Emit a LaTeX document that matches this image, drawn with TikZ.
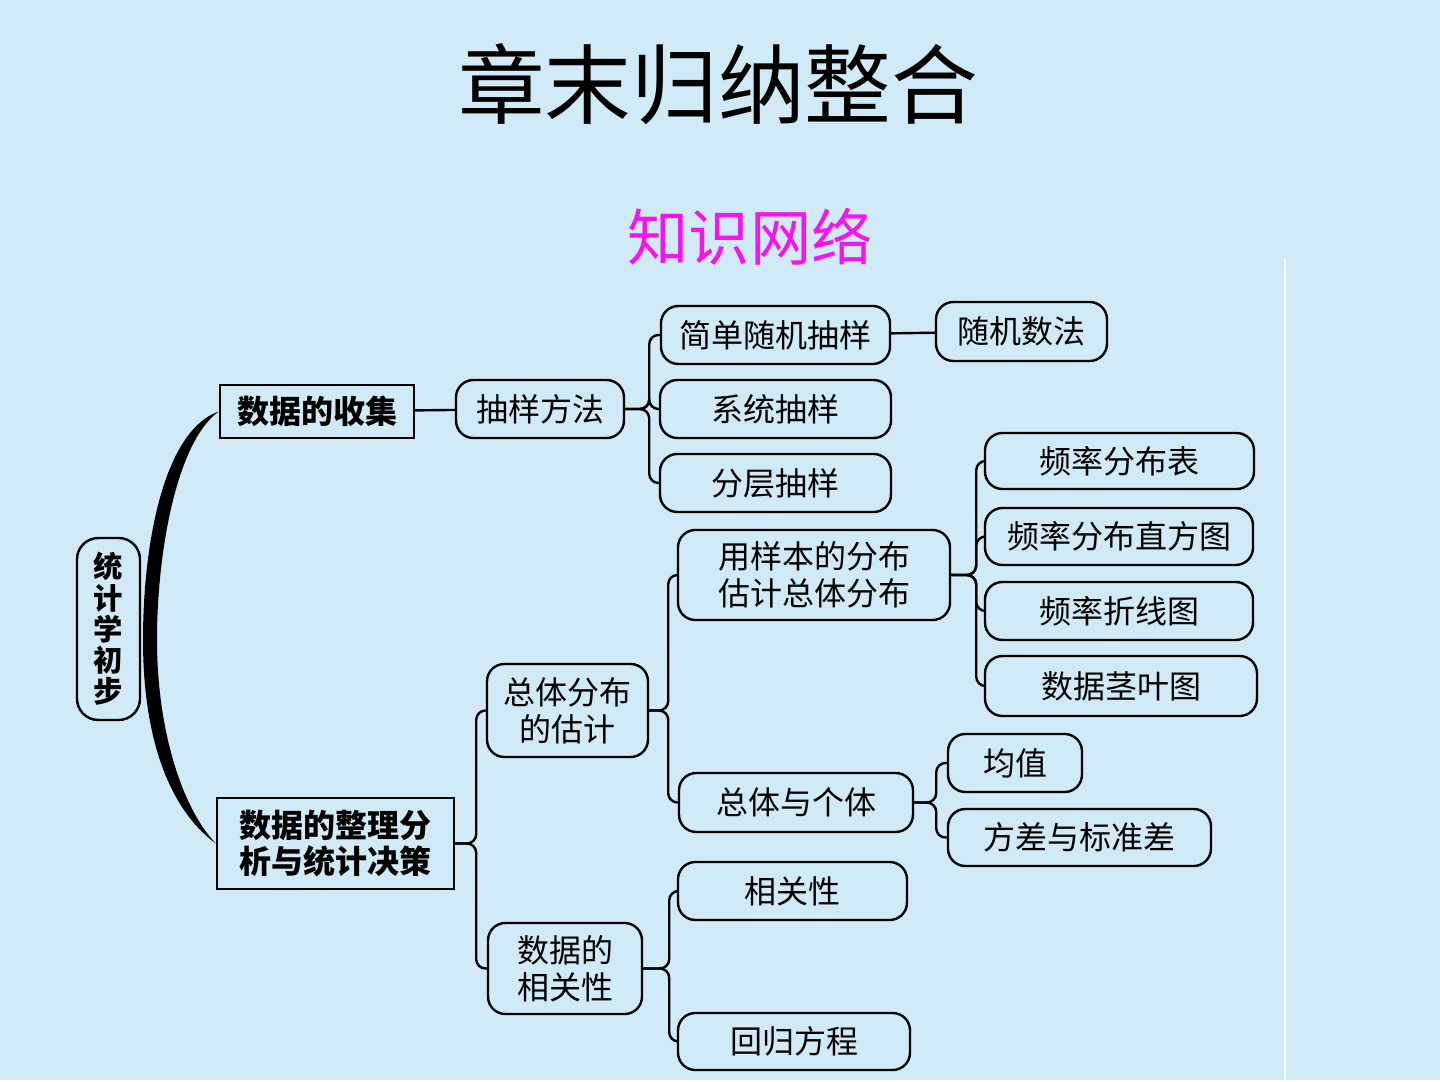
\documentclass[tikz,border=0pt]{standalone}
\usepackage{fontspec}
\setmainfont{Noto Sans CJK SC}
\definecolor{paper}{RGB}{208,234,247}
\definecolor{pinktitle}{RGB}{245,20,240}
\tikzset{
  sz/.style 2 args={minimum width=#1*0.75pt, minimum height=#2*0.75pt},
  box/.style={draw, line width=1.8pt, rounded corners=13pt, align=center, inner sep=0pt, font=\fontsize{24}{28}\selectfont},
  sqbox/.style={draw, line width=1.8pt, align=center, inner sep=0pt, font=\bfseries\fontsize{24}{27.5}\selectfont},
  link/.style={line width=1.8pt, rounded corners=7pt},
}

\begin{document}
\begin{tikzpicture}[x=0.75pt,y=0.75pt,yscale=-1,xscale=1]
%background
\fill [paper] (0,0) rectangle (1440,1080);
\draw [white, line width=2pt, opacity=0.8] (1285,258) -- (1285,1080);

% Title
\node (title) at (718,84) {\fontsize{65}{70}\selectfont 章末归纳整合};
\node [text=pinktitle] (sub) at (750,237) {\fontsize{46}{50}\selectfont 知识网络};

% Root and first level
\node [box, sz={63}{182}, rounded corners=16pt, font=\bfseries\fontsize{22}{23.4}\selectfont] (root) at (108.5,629) {统\\计\\学\\初\\步};
\node [sqbox, sz={194}{53}] (collect) at (317,411.5) {数据的收集};
\node [sqbox, sz={237}{91}] (analyse) at (335.5,843.5) {数据的整理分\\析与统计决策};

% Sampling branch
\node [box, sz={168}{58}] (sample) at (540,409) {抽样方法};
\node [box, sz={229}{58}] (srs) at (775.5,335) {简单随机抽样};
\node [box, sz={231}{58}] (sys) at (775.5,409) {系统抽样};
\node [box, sz={231}{58}] (strat) at (775.5,483) {分层抽样};
\node [box, sz={171}{59}] (rnd) at (1021.5,331.5) {随机数法};

% Analysis branch
\node [box, sz={161}{93}] (popest) at (567.5,710.5) {总体分布\\的估计};
\node [box, sz={154}{91}] (corr) at (565,968.5) {数据的\\相关性};
\node [box, sz={272}{90}, align=left] (bysample) at (814,575) {用样本的分布\\估计总体分布};
\node [box, sz={234}{59}] (popind) at (796,802.5) {总体与个体};
\node [box, sz={269}{56}] (ftab) at (1119.5,461) {频率分布表};
\node [box, sz={268}{57}] (fhist) at (1119,536.5) {频率分布直方图};
\node [box, sz={268}{58}] (fpoly) at (1119,611) {频率折线图};
\node [box, sz={272}{60}] (stem) at (1121,686) {数据茎叶图};
\node [box, sz={134}{58}] (mean) at (1015,763) {均值};
\node [box, sz={263}{57}] (var) at (1079.5,837.5) {方差与标准差};
\node [box, sz={229}{58}] (rel) at (792.5,891) {相关性};
\node [box, sz={232}{57}] (reg) at (794,1041.5) {回归方程};

% thick brace from root
\fill (collect.west) .. controls (165,430) and (143,540) .. (143,640) .. controls (143,740) and (170,810) .. (analyse.west) .. controls (182,808) and (157,730) .. (157,640) .. controls (157,548) and (178,440) .. (collect.west) -- cycle;

% Connectors
\draw [link] (collect) -- (sample);
\draw [link] (srs) -- (rnd);
\foreach \c in {srs,sys,strat}
  \draw [link] (sample.east) -- ++(24,0) |- (\c.west);
\foreach \c in {popest,corr}
  \draw [link] (analyse.east) -- ++(21,0) |- (\c.west);
\foreach \c in {bysample,popind}
  \draw [link] (popest.east) -- ++(19,0) |- (\c.west);
\foreach \c in {ftab,fhist,fpoly,stem}
  \draw [link] (bysample.east) -- ++(25,0) |- (\c.west);
\foreach \c in {mean,var}
  \draw [link] (popind.east) -- ++(22,0) |- (\c.west);
\foreach \c in {rel,reg}
  \draw [link] (corr.east) -- ++(26,0) |- (\c.west);

\end{tikzpicture}
\end{document}
